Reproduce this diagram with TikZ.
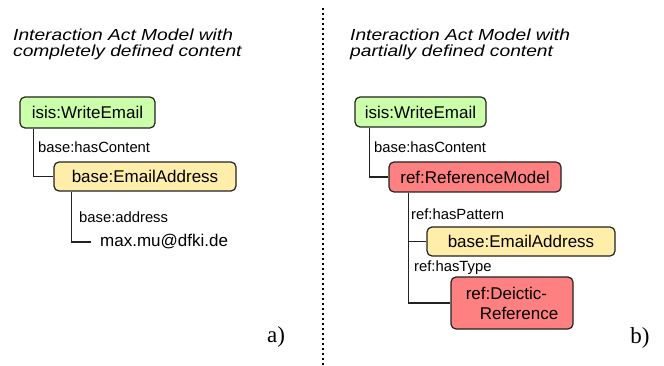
\documentclass[tikz,border=0pt]{standalone}
\usepackage{fontspec}
\setmainfont{Liberation Sans}
\newfontfamily\titlefont[FakeStretch=1.2]{Liberation Sans}
\newfontfamily\panelfont{Liberation Serif}
\usetikzlibrary{positioning}

\definecolor{actgreen}{HTML}{CCFFAA}
\definecolor{addryellow}{HTML}{FFEEAA}
\definecolor{refred}{HTML}{FF8080}
\definecolor{edgegray}{HTML}{222222}

\tikzset{
  box/.style={draw=edgegray, line width=1.2pt, rounded corners=5pt,
    inner sep=0pt, font=\fontsize{17}{20}\selectfont},
  actbox/.style={box, fill=actgreen},
  addrbox/.style={box, fill=addryellow},
  refbox/.style={box, fill=refred},
  rel/.style={anchor=west, inner sep=0pt, font=\fontsize{14.8}{17}\selectfont},
  heading/.style={anchor=base west, inner sep=0pt,
    font=\titlefont\itshape\fontsize{16}{16}\selectfont},
  tag/.style={inner sep=0pt, font=\panelfont\fontsize{23}{23}\selectfont},
  link/.style={draw=edgegray, line width=1.2pt},
}

\begin{document}
\begin{tikzpicture}[x=1pt, y=-1pt]
  \useasboundingbox (0,0) rectangle (664,366);

  % ---- panel a: completely defined content ----
  \node[heading] (ha1) at (13,41) {Interaction Act Model with};
  \node[heading] (ha2) at (13,57) {completely defined content};

  \node[actbox, minimum width=135pt, minimum height=31pt] (we1) at (87.5,112.5) {isis:WriteEmail};
  \node[addrbox, minimum width=182pt, minimum height=29pt] (ea1) at (145,176.5) {base:EmailAddress};
  \node[anchor=west, inner xsep=9pt, inner ysep=0pt,
        font=\fontsize{17}{20}\selectfont] (mail) at (91,242) {max.mu@dfki.de};

  \node[rel] (hc1) at (38,147) {base:hasContent};
  \node[rel] (adr) at (79,217) {base:address};

  \draw[link] ([xshift=14pt]we1.south west) |- (ea1.west);
  \draw[link] ([xshift=18pt]ea1.south west) |- (mail.west);

  \node[tag] (ta) at (276,337) {a)};

  % ---- separator ----
  \coordinate (septop) at (323,8);
  \coordinate (sepbot) at (323,366);
  \draw[line width=2pt, dash pattern=on 2pt off 3pt] (septop) -- (sepbot);

  % ---- panel b: partially defined content ----
  \node[heading] (hb1) at (350,41) {Interaction Act Model with};
  \node[heading] (hb2) at (350,57) {partially defined content};

  \node[actbox, minimum width=131pt, minimum height=30pt] (we2) at (420.5,112) {isis:WriteEmail};
  \node[refbox, minimum width=172pt, minimum height=30pt] (rm) at (475,177) {ref:ReferenceModel};
  \node[addrbox, minimum width=188pt, minimum height=29pt] (ea2) at (521,241.5) {base:EmailAddress};
  \node[refbox, minimum width=122pt, minimum height=52pt, align=left] (dr) at (512,303)
    {ref:Deictic-\\\hspace*{14pt}Reference};

  \node[rel] (hc2) at (374,147) {base:hasContent};
  \node[rel] (hp) at (411,214) {ref:hasPattern};
  \node[rel] (ht) at (414,268) {ref:hasType};

  \draw[link] ([xshift=15pt]we2.south west) |- (rm.west);
  \draw[link] ([xshift=20pt]rm.south west) |- (ea2.west);
  \draw[link] ([xshift=20pt]rm.south west) |- (dr.west);

  \node[tag] (tb) at (640,338) {b)};
\end{tikzpicture}
\end{document}
